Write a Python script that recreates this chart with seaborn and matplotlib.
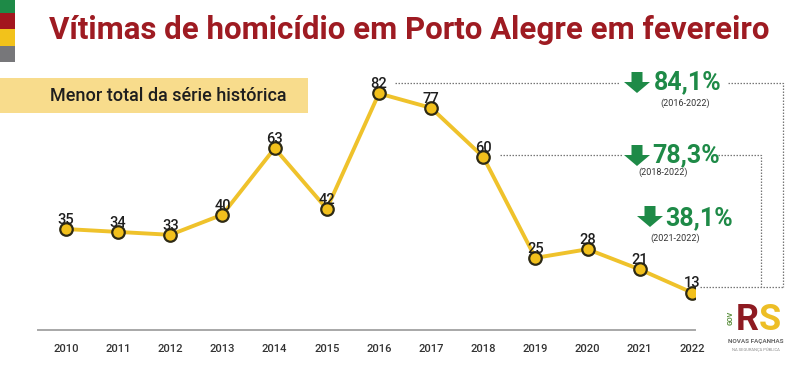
import pandas as pd
import matplotlib.pyplot as plt
import seaborn as sns
from matplotlib.patches import Rectangle, Polygon

# Victims of homicide in Porto Alegre, February of each year
years = [2010, 2011, 2012, 2013, 2014, 2015, 2016, 2017, 2018, 2019, 2020, 2021, 2022]
victims = [35, 34, 33, 40, 63, 42, 82, 77, 60, 25, 28, 21, 13]

# comparisons shown on the right (start year -> last year)
compare_from = [2016, 2018, 2021]

title = 'Vítimas de homicídio em Porto Alegre em fevereiro'
banner = 'Menor total da série histórica'

W, H = 800, 365
red = '#9E1B22'
green = '#1E8A47'
yellow = '#EFC22B'

sns.set_theme(style='white')
plt.rcParams['font.family'] = ['Roboto', 'DejaVu Sans']

df = pd.DataFrame({'ano': years, 'vitimas': victims})

fig = plt.figure(figsize=(W / 100, H / 100), dpi=100)


def fx(px):
    return px / W


def fy(py):
    return 1 - py / H


ax = fig.add_axes([fx(38), fy(330), fx(695) - fx(38), fy(60) - fy(330)])

sns.lineplot(data=df, x='ano', y='vitimas', ax=ax, color=yellow, lw=2.8,
             marker='o', markersize=9, markerfacecolor='#F2C01C',
             markeredgecolor='#2E2A14', markeredgewidth=1.6, zorder=3)

for x, y in zip(years, victims):
    ax.annotate(str(y), (x, y), xytext=(0, 6.5), textcoords='offset points',
                ha='center', va='center', fontsize=10.5, fontweight='medium',
                color='#1E1E1E', zorder=4)

ax.set_xlim(2009.463, 2022.06)
ax.set_ylim(0, 93.6)
ax.set_xticks(years)
ax.set_xticklabels([str(y) for y in years])
ax.set_yticks([])
ax.set_xlabel('')
ax.set_ylabel('')
ax.tick_params(axis='x', length=0, pad=10, labelsize=8, labelcolor='#333333')
for lbl in ax.get_xticklabels():
    lbl.set_fontweight('medium')
for side in ['top', 'right', 'left']:
    ax.spines[side].set_visible(False)
ax.spines['bottom'].set_color('#A8A8A8')
ax.spines['bottom'].set_linewidth(1.4)

# dotted comparison brackets
val = dict(zip(years, victims))
last = years[-1]
dot = dict(color='#777777', lw=0.9, ls=(0, (1.2, 1.2)), clip_on=False, zorder=1)
y_last = val[last] + 1.8
# 2016 bracket
y16 = val[2016] + 3.5
ax.plot([2016.31, 2020.62], [y16, y16], **dot)
ax.plot([2022.69, 2023.74, 2023.74], [y16, y16, y_last], **dot)
# 2018 bracket
y18 = val[2018] + 0.6
ax.plot([2018.32, 2020.66], [y18, y18], **dot)
ax.plot([2022.50, 2023.32, 2023.32], [y18, y18, y_last], **dot)
ax.plot([2022.15, 2023.74], [y_last, y_last], **dot)

# percentage drops with green arrows
labels_pos = [
    # arrow left, arrow top, pct left, pct centre y, period centre x, period y
    (624, 72, 654, 82, 685, 103),
    (624, 145, 652, 155, 663, 172),
    (637, 206, 665, 218, 675, 238),
]
for start, (axl, at, px, py, cx, cy) in zip(compare_from, labels_pos):
    drop = round((1 - val[last] / val[start]) * 100, 1)
    pct = f'{drop:.1f}%'.replace('.', ',')
    aw, ah, bw, bh = 26, 21, 11, 10
    pts = [(axl + (aw - bw) / 2, at), (axl + (aw + bw) / 2, at),
           (axl + (aw + bw) / 2, at + bh), (axl + aw, at + bh),
           (axl + aw / 2, at + ah), (axl, at + bh),
           (axl + (aw - bw) / 2, at + bh)]
    fig.add_artist(Polygon([(fx(a), fy(b)) for a, b in pts], closed=True,
                           transform=fig.transFigure, color=green, lw=0))
    fig.text(fx(px), fy(py), pct, fontsize=18, fontweight='bold', color=green,
             ha='left', va='center')
    fig.text(fx(cx), fy(cy), f'({start}-{last})', fontsize=6.5, color='#333333',
             ha='center', va='center')

# title and colour strip
strip = [('#1E8A47', 0, 13), ('#A3161E', 13, 29), ('#F2C21B', 29, 46), ('#77777A', 46, 62)]
for c, t, b in strip:
    fig.add_artist(Rectangle((fx(0), fy(b)), fx(15), fy(t) - fy(b),
                             transform=fig.transFigure, color=c, lw=0))
fig.text(fx(409), fy(30), title, fontsize=22.5, fontweight='bold', color=red,
         ha='center', va='center')

# banner
fig.add_artist(Rectangle((fx(0), fy(113)), fx(308), fy(78) - fy(113),
                         transform=fig.transFigure, color='#F8DC8C', lw=0))
fig.text(fx(50), fy(96), banner, fontsize=13, color='#1E1E1E', fontweight='medium',
         ha='left', va='center')

# government logo (approximation)
fig.text(fx(747), fy(320), 'R', fontsize=26, fontweight='bold', color='#8E1B22',
         ha='center', va='center')
fig.text(fx(770), fy(320), 'S', fontsize=26, fontweight='bold', color='#EDBE26',
         ha='center', va='center')
fig.text(fx(731), fy(318), 'GOV', fontsize=5, fontweight='bold', color='#5A8F3C',
         rotation=90, ha='center', va='center')
fig.text(fx(756), fy(341), 'NOVAS FAÇANHAS', fontsize=4.6, fontweight='bold',
         color='#666666', ha='center', va='center')
fig.text(fx(756), fy(350), 'NA SEGURANÇA PÚBLICA', fontsize=3, color='#888888',
         ha='center', va='center')

fig.savefig('out.png', dpi=100, facecolor='white')
